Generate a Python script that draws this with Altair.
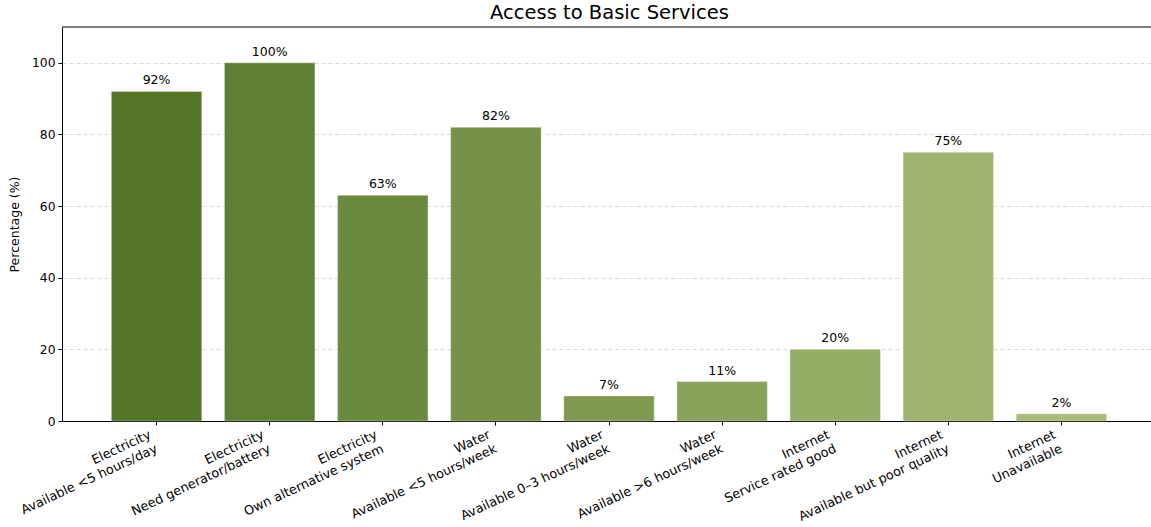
import altair as alt
import pandas as pd

groups = ["Electricity", "Electricity", "Electricity", "Water", "Water", "Water",
          "Internet", "Internet", "Internet"]
details = ["Available <5 hours/day", "Need generator/battery", "Own alternative system",
           "Available <5 hours/week", "Available 0–3 hours/week", "Available >6 hours/week",
           "Service rated good", "Available but poor quality", "Unavailable"]
values = [92, 100, 63, 82, 7, 11, 20, 75, 2]
colors = ["#547528", "#5f7f32", "#6a8a3d", "#759146", "#7f9a50",
          "#89a45a", "#95ad65", "#a0b46f", "#a9bc79"]
y_ticks = [0, 20, 40, 60, 80, 100]

cats = [f"{g}\n{d}" for g, d in zip(groups, details)]
df = pd.DataFrame({"cat": cats, "value": values,
                   "label": [f"{v}%" for v in values]})

FONT = "DejaVu Sans"
W, H = 1089, 394
x_scale = alt.Scale(paddingInner=0.2, paddingOuter=0.436, range=[0, 1094])
y_scale = alt.Scale(domain=[0, 110], nice=False)

x_enc = alt.X("cat:N", sort=cats, scale=x_scale,
              axis=alt.Axis(title=None, labelAngle=335, labelAlign="right",
                            labelBaseline="top", labelExpr="split(datum.label, '\\n')",
                            labelLineHeight=15.5, labelFontSize=12.8, labelColor="#000000",
                            labelFont=FONT, labelOffset=-9, labelPadding=3,
                            tickColor="#000000", tickSize=4, domainColor="#000000",
                            labelOverlap=False, labelBound=False))

bars = alt.Chart(df).mark_bar(stroke="#ffffff", strokeOpacity=0.35, strokeWidth=1).encode(
    x=x_enc,
    y=alt.Y("value:Q", scale=y_scale,
            axis=alt.Axis(title="Percentage (%)", values=y_ticks, grid=True,
                          gridColor="#d0d0d0", gridDash=[4, 3], gridWidth=0.8,
                          labelFontSize=12.3, labelColor="#000000", labelFont=FONT,
                          titleFont=FONT, titleFontSize=12.5, titleFontWeight="normal",
                          titleColor="#000000", titlePadding=10,
                          tickColor="#000000", tickSize=4, domainColor="#000000",
                          labelPadding=3)),
    color=alt.Color("cat:N", scale=alt.Scale(domain=cats, range=colors), legend=None),
)

text = alt.Chart(df).mark_text(baseline="alphabetic", dy=-7, fontSize=12.5,
                               font=FONT, color="#000000").encode(
    x=alt.X("cat:N", sort=cats, scale=x_scale),
    y=alt.Y("value:Q", scale=y_scale),
    text="label:N",
)

top_line = alt.Chart(pd.DataFrame({"k": [0]})).mark_rule(
    color="#000000", strokeWidth=1).encode(
    x=alt.value(0), x2=alt.value(W), y=alt.value(0))

chart = (bars + text + top_line).properties(
    width=W, height=H,
    title=alt.TitleParams("Access to Basic Services", fontSize=19.5, font=FONT,
                          fontWeight="normal", color="#000000", offset=3,
                          anchor="middle", dx=3),
    autosize=alt.AutoSizeParams(type="none"),
    padding={"left": 62, "top": 27, "right": 0, "bottom": 106},
).configure_view(strokeWidth=0)

chart.save("out.html", embed_options={"renderer": "svg", "actions": False})
